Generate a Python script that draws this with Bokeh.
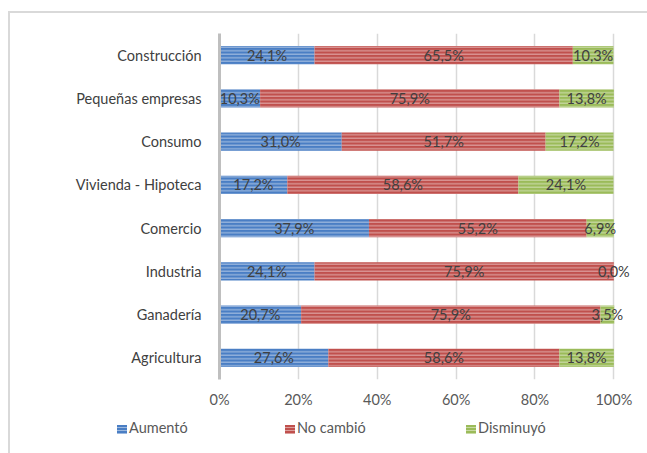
from bokeh.plotting import figure
from bokeh.layouts import column
from bokeh.models import ColumnDataSource, FactorRange, Range1d, FixedTicker, CustomJSTickFormatter, Div
from bokeh.core.properties import value
from bokeh.embed import file_html
from bokeh.resources import INLINE

categories = ["Construcción", "Pequeñas empresas", "Consumo", "Vivienda - Hipoteca",
              "Comercio", "Industria", "Ganadería", "Agricultura"]
aumento = [24.1, 10.3, 31.0, 17.2, 37.9, 24.1, 20.7, 27.6]
no_cambio = [65.5, 75.9, 51.7, 58.6, 55.2, 75.9, 75.9, 58.6]
disminuyo = [10.3, 13.8, 17.2, 24.1, 6.9, 0.0, 3.5, 13.8]
series_names = ["Aumentó", "No cambió", "Disminuyó"]
colors = ["#4A7EC4", "#C0504D", "#9BBB59"]
x_ticks = [0, 20, 40, 60, 80, 100]

FONT = "Lato"
FS = "14.5px"
HATCH = dict(hatch_pattern="horizontal_line", hatch_color="white", hatch_alpha=0.5,
             hatch_scale=3.5, hatch_weight=1.1)

def fmt(v):
    return f"{v:.1f}".replace(".", ",") + "%"

series = [aumento, no_cambio, disminuyo]
left = [0.0] * len(categories)
sources = []
for vals in series:
    right = [l + v for l, v in zip(left, vals)]
    mid = [(l + r) / 2 for l, r in zip(left, right)]
    sources.append(ColumnDataSource(dict(cat=categories, left=left, right=right, mid=mid,
                                         lbl=[fmt(v) for v in vals])))
    left = right

p = figure(width=637, height=397, y_range=FactorRange(*reversed(categories)),
           x_range=Range1d(0, 106), output_backend="svg", toolbar_location=None,
           min_border_left=209, min_border_right=10, min_border_top=20, min_border_bottom=27)
p.outline_line_color = None
p.background_fill_color = "white"
p.border_fill_color = "white"

for src, c in zip(sources, colors):
    p.hbar(y="cat", left="left", right="right", height=0.42, source=src,
           fill_color=c, line_color=None, **HATCH)

for src in sources:
    p.text(x="mid", y="cat", text="lbl", source=src, text_align="center",
           text_baseline="middle", text_font=value(FONT), text_font_size=FS,
           text_color="#404040")

p.xgrid.ticker = FixedTicker(ticks=x_ticks)
p.xgrid.grid_line_color = "#D9D9D9"
p.xgrid.grid_line_width = 1.5
p.ygrid.grid_line_color = None

p.xaxis.ticker = FixedTicker(ticks=x_ticks)
p.xaxis.formatter = CustomJSTickFormatter(code="return tick + '%';")
p.xaxis.axis_line_color = None
p.xaxis.major_tick_line_color = None
p.xaxis.minor_tick_line_color = None
p.xaxis.major_label_standoff = 5
p.xaxis.major_label_text_font = FONT
p.xaxis.major_label_text_font_size = FS
p.xaxis.major_label_text_color = "#595959"

p.yaxis.axis_line_color = "#BFBFBF"
p.yaxis.axis_line_width = 3
p.yaxis.major_tick_line_color = None
p.yaxis.minor_tick_line_color = None
p.yaxis.major_label_standoff = 12
p.yaxis.major_label_text_font = FONT
p.yaxis.major_label_text_font_size = FS
p.yaxis.major_label_text_color = "#404040"

# legend strip (HTML) below the chart
legend_left = [107, 275, 456]
items_html = ""
for name, c, lx in zip(series_names, colors, legend_left):
    swatch = (f"display:inline-block;width:10px;height:9px;margin-right:2px;vertical-align:-1px;"
              f"background:repeating-linear-gradient(to bottom,{c} 0px,{c} 2px,"
              f"rgba(255,255,255,0.45) 2px,rgba(255,255,255,0.45) 3px),{c};")
    items_html += (f"<span style='position:absolute;left:{lx}px;top:8px;white-space:nowrap;'>"
                   f"<span style='{swatch}'></span>{name}</span>")
legend_div = Div(text=(f"<div style='position:relative;width:637px;height:43px;"
                       f"font-family:{FONT};font-size:{FS};color:#595959;line-height:20px;'>"
                       f"{items_html}</div>"),
                 width=637, height=43, styles={"margin": "0", "padding": "0"})

layout = column(p, legend_div, spacing=0,
                styles={"margin-left": "8px", "margin-top": "11px",
                        "border-left": "2px solid #D9D9D9", "border-top": "2px solid #D9D9D9"})

open("out.html", "w").write(file_html(layout, INLINE))
